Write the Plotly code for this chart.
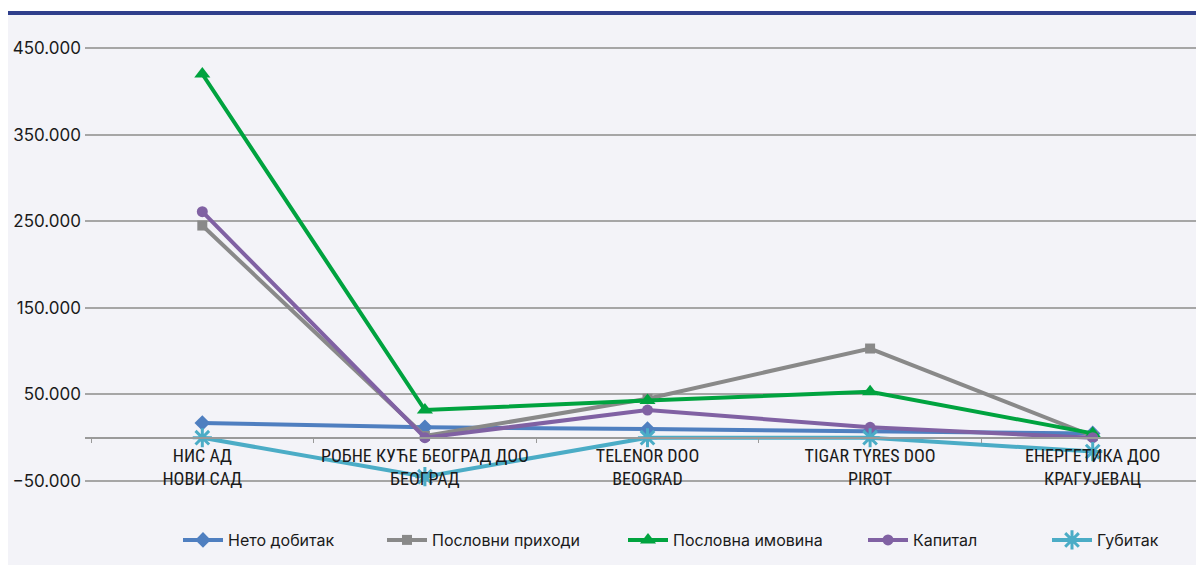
import plotly.graph_objects as go

categories = ["НИС АД<br>НОВИ САД", "РОБНЕ КУЋЕ БЕОГРАД ДОО<br>БЕОГРАД", "TELENOR DOO<br>BEOGRAD",
              "TIGAR TYRES DOO<br>PIROT", "ЕНЕРГЕТИКА ДОО<br>КРАГУЈЕВАЦ"]
neto_dobitak = [17000, 12000, 10000, 8000, 5000]
poslovni_prihodi = [245000, 2000, 45000, 103000, 2000]
poslovna_imovina = [420000, 32000, 43000, 53000, 5000]
kapital = [261000, 0, 32000, 12000, 0]
gubitak = [0, -45000, 0, 0, -16000]
y_ticks = [-50000, 50000, 150000, 250000, 350000, 450000]

series = [
    ("Нето добитак", neto_dobitak, "#4f7fc0", "diamond", 12),
    ("Пословни приходи", poslovni_prihodi, "#898989", "square", 10),
    ("Пословна имовина", poslovna_imovina, "#00a33f", "triangle-up", 14),
    ("Капитал", kapital, "#8061a3", "circle", 11),
    ("Губитак", gubitak, "#4bacc6", "asterisk-open", 16),
]
# left edge of each legend line in the reference picture (px)
legend_line_x = [183, 387, 628, 868, 1052]

OFF = 8  # page body margin
W, H = 1204 - OFF, 565 - OFF
L, R = 85 - OFF, 0
T = 30 - OFF
B = H - (500 - OFF)
pw, ph = W - L - R, H - T - B

def px_x(p):
    return (p - OFF - L) / pw

def px_y(p):
    return (H - B - (p - OFF)) / ph

ymin, ymax = -71900, 470800
zero_pos = (0 - ymin) / (ymax - ymin)

fig = go.Figure()
for i, (name, vals, col, sym, sz) in enumerate(series):
    marker = dict(symbol=sym, size=sz, color=col)
    if sym == "asterisk-open":
        marker["line"] = dict(color=col, width=3)
    lg = "legend" if i == 0 else f"legend{i+1}"
    fig.add_trace(go.Scatter(x=categories, y=vals, name=name, mode="lines+markers",
                             line=dict(color=col, width=4), marker=marker, legend=lg))

legend_font = dict(family="Inter, Roboto, sans-serif", size=16, color="#1a1a1a")
legends = {}
for i, lx in enumerate(legend_line_x):
    key = "legend" if i == 0 else f"legend{i+1}"
    legends[key] = dict(orientation="h", x=px_x(lx - 5), xanchor="left", y=px_y(540), yanchor="middle",
                        font=legend_font, bgcolor="rgba(0,0,0,0)", borderwidth=0, itemwidth=40)

fig.update_layout(
    width=W, height=H,
    margin=dict(l=L, r=R, t=T, b=B),
    paper_bgcolor="white",
    plot_bgcolor="rgba(0,0,0,0)",
    separators=",.",
    font=dict(family="Liberation Sans Narrow, Roboto Condensed, Arial Narrow, sans-serif", size=18, color="#1a1a1a"),
    showlegend=True,
    xaxis=dict(
        type="category", anchor="free", position=zero_pos,
        range=[-0.527, 4.5],
        showline=True, linecolor="#9a9a9a", linewidth=1.5,
        ticks="outside", ticklen=5, tickcolor="#9a9a9a", tickson="boundaries",
        showgrid=False, tickfont=dict(size=18), ticklabelstandoff=2,
    ),
    yaxis=dict(
        range=[ymin, ymax], tickvals=y_ticks, tickformat=",d",
        showgrid=True, gridcolor="#a6a6a6", gridwidth=1.5, zeroline=False,
        showline=False, ticks="", ticklabelstandoff=3,
        tickfont=dict(family="Inter, Roboto, sans-serif", size=17, color="#1a1a1a"),
    ),
    shapes=[
        dict(type="rect", xref="paper", yref="paper", x0=px_x(0), x1=1.0, y0=px_y(565), y1=px_y(13),
             fillcolor="#f3f3f8", line=dict(width=0), layer="below"),
        dict(type="line", xref="paper", yref="paper", x0=px_x(0), x1=1.0, y0=px_y(13), y1=px_y(13),
             line=dict(color="#2f3f8c", width=4)),
    ],
    **legends,
)

fig.write_html("out.html")
